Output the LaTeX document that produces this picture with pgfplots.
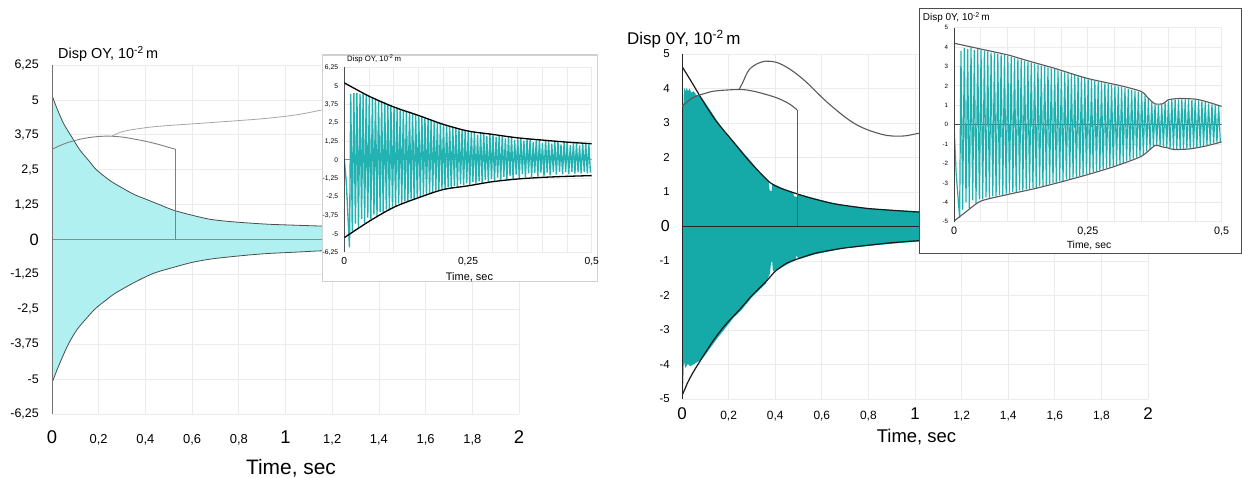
\documentclass[border=0pt]{standalone}
\usepackage{pgfplots}
\pgfplotsset{compat=1.18}
\usepackage{pgfplotstable}
\usepackage{fontspec}
\setmainfont{Liberation Sans}
\newcommand\fs[1]{\fontsize{#1}{#1}\selectfont}
\definecolor{gridc}{HTML}{EBEBEB}
\definecolor{fillL}{HTML}{B0F0F0}
\definecolor{sigL}{HTML}{22B2B2}
\definecolor{fillR}{HTML}{15AAA8}
\definecolor{sigR}{HTML}{1DB0AE}
\pgfplotsset{
  myax/.style={scale only axis, anchor=south west, axis line style={draw=none},
    major tick length=0pt, tick style={draw=none}, xmajorgrids, ymajorgrids,
    grid style={gridc, line width=0.8bp}, ticklabel style={inner sep=0pt}},
}
\pgfplotstableread{
t a b
0 0 0
0.0040 -1.5 -2.5
0.0105 -5.9 -4.8
0.0130 4.45 3.8
0.0161 -4.8 -4.4
0.0193 4.5 3.95
0.0224 -4.3 -4.0
0.0255 4.5 3.9
0.0286 -4.55 -4.3
0.0318 4.45 3.98
0.0349 -4.0 -3.9
0.0380 4.45 3.85
0.0411 -4.25 -4.05
0.0443 4.4 3.9
0.0474 -3.9 -3.85
0.0505 4.3 3.85
0.0536 -4.0 -3.85
0.0568 4.25 3.82
0.0599 -3.7 -3.75
0.0630 4.15 3.78
0.0661 -3.8 -3.78
0.0693 4.05 3.72
0.0724 -3.5 -3.7
0.0755 3.98 3.7
0.0786 -3.6 -3.7
0.0818 3.9 3.65
0.0849 -3.35 -3.62
0.0880 3.78 3.62
0.0911 -3.4 -3.62
0.0943 3.72 3.58
0.0974 -3.15 -3.55
0.1005 3.62 3.55
0.1036 -3.15 -3.55
0.1068 3.55 3.5
0.1099 -2.95 -3.48
0.1130 3.45 3.45
0.1161 -2.98 -3.46
0.1193 3.4 3.4
0.1224 -2.8 -3.4
0.1255 3.3 3.35
0.1286 -2.82 -3.4
0.1318 3.25 3.3
0.1349 -2.65 -3.33
0.1380 3.18 3.25
0.1411 -2.68 -3.32
0.1443 3.1 3.2
0.1474 -2.5 -3.26
0.1505 3.02 3.15
0.1536 -2.5 -3.25
0.1568 2.95 3.1
0.1599 -2.35 -3.18
0.1630 2.86 3.05
0.1661 -2.38 -3.16
0.1693 2.8 3.0
0.1724 -2.22 -3.1
0.1755 2.72 2.95
0.1786 -2.25 -3.07
0.1818 2.65 2.9
0.1849 -2.1 -3.0
0.1880 2.55 2.86
0.1911 -2.1 -2.98
0.1943 2.5 2.8
0.1974 -1.95 -2.92
0.2005 2.42 2.75
0.2036 -1.98 -2.9
0.2068 2.38 2.7
0.2099 -1.85 -2.82
0.2130 2.3 2.65
0.2161 -1.9 -2.8
0.2193 2.25 2.6
0.2224 -1.75 -2.73
0.2255 2.2 2.55
0.2286 -1.8 -2.71
0.2318 2.12 2.5
0.2349 -1.65 -2.64
0.2380 2.08 2.45
0.2411 -1.72 -2.62
0.2443 2.02 2.4
0.2474 -1.58 -2.55
0.2505 1.98 2.35
0.2536 -1.7 -2.52
0.2568 1.94 2.3
0.2599 -1.5 -2.44
0.2630 1.9 2.26
0.2661 -1.62 -2.42
0.2693 1.7 2.22
0.2724 -1.45 -2.35
0.2755 1.88 2.18
0.2786 -1.55 -2.32
0.2818 1.82 2.14
0.2849 -1.35 -2.24
0.2880 1.6 2.1
0.2911 -1.5 -2.2
0.2943 1.78 2.06
0.2974 -1.3 -2.13
0.3005 1.74 2.02
0.3036 -1.45 -2.1
0.3068 1.55 1.98
0.3099 -1.2 -2.02
0.3130 1.68 1.95
0.3161 -1.4 -1.97
0.3193 1.66 1.9
0.3224 -1.15 -1.88
0.3255 1.45 1.85
0.3286 -1.35 -1.83
0.3318 1.6 1.8
0.3349 -1.1 -1.75
0.3380 1.56 1.76
0.3411 -1.3 -1.7
0.3443 1.35 1.71
0.3474 -1.0 -1.62
0.3505 1.5 1.65
0.3536 -1.25 -1.55
0.3568 1.48 1.5
0.3599 -0.95 -1.38
0.3630 1.3 1.32
0.3661 -1.2 -1.26
0.3693 1.45 1.15
0.3724 -0.9 -1.1
0.3755 1.42 1.04
0.3786 -1.15 -1.08
0.3818 1.2 1.03
0.3849 -0.88 -1.1
0.3880 1.38 1.04
0.3911 -1.12 -1.13
0.3943 1.37 1.12
0.3974 -0.85 -1.16
0.4005 1.15 1.24
0.4036 -1.1 -1.2
0.4068 1.33 1.28
0.4099 -0.85 -1.25
0.4130 1.31 1.3
0.4161 -1.05 -1.25
0.4193 1.1 1.31
0.4224 -0.82 -1.24
0.4255 1.28 1.31
0.4286 -1.0 -1.24
0.4318 1.26 1.3
0.4349 -0.8 -1.23
0.4380 1.05 1.3
0.4411 -0.98 -1.22
0.4443 1.22 1.28
0.4474 -0.82 -1.2
0.4505 1.2 1.28
0.4536 -0.95 -1.17
0.4568 1.0 1.25
0.4599 -0.8 -1.14
0.4630 1.17 1.2
0.4661 -0.92 -1.1
0.4693 1.15 1.16
0.4724 -0.82 -1.06
0.4755 0.98 1.1
0.4786 -0.9 -1.0
0.4818 1.13 1.05
0.4849 -0.8 -0.96
0.4880 1.12 1.0
0.4911 -0.9 -0.92
0.4943 1.05 0.95
0.4974 -0.85 -0.88
}\sig
\begin{document}
\begin{tikzpicture}[x=1bp,y=1bp]
\path[use as bounding box] (0bp,0bp) rectangle (1242bp,478bp);
% ---------------- left main ----------------
\begin{axis}[myax, at={(52bp,64bp)}, width=467bp, height=349bp,
  xmin=0, xmax=2, ymin=-6.25, ymax=6.25,
  xtick={0,0.2,0.4,0.6,0.8,1,1.2,1.4,1.6,1.8,2},
  xticklabels={{\fs{18.5}0},{0,2},{0,4},{0,6},{0,8},{\fs{18.5}1},{1,2},{1,4},{1,6},{1,8},{\fs{18.5}2}},
  xticklabel style={font=\fs{13}, anchor=base, yshift=-29.3bp},
  ytick={-6.25,-5,-3.75,-2.5,-1.25,0,1.25,2.5,3.75,5,6.25},
  yticklabels={{-6,25},{-5},{-3,75},{-2,5},{-1,25},{\fs{16.5}0},{1,25},{2,5},{3,75},{5},{6,25}},
  yticklabel style={font=\fs{12.5}, anchor=east, xshift=-13bp},
  xlabel={Time, sec}, xlabel style={at={(axis description cs:0.5118,-0.1728)}, anchor=base, inner sep=0pt, font=\fs{21}},
  title={Disp OY, 10\textsuperscript{-2}\,m}, title style={at={(axis description cs:0.0128,1.0192)}, anchor=base west, inner sep=0pt, yshift=-6pt, font=\fs{14.5}},
]
\addplot[fill=fillL, draw=none] coordinates {
(0,5.17)(0.02,4.72)(0.05,4.15)(0.084,3.68)(0.12,3.2)(0.16,2.8)(0.19,2.5)(0.25,2.1)(0.3,1.85)(0.35,1.62)(0.4,1.45)(0.46,1.25)(0.52,1.05)(0.6,0.87)(0.68,0.72)(0.78,0.63)(0.92,0.55)(1.05,0.51)(1.16,0.48)(1.3,0.45)
(1.3,-0.38)(1.157,-0.405)(1.05,-0.45)(0.928,-0.5)(0.85,-0.55)(0.763,-0.62)(0.68,-0.7)(0.6,-0.82)(0.52,-1.0)(0.435,-1.21)(0.35,-1.55)(0.27,-1.93)(0.23,-2.18)(0.188,-2.46)(0.15,-2.8)(0.106,-3.24)(0.07,-3.75)(0.04,-4.3)(0.02,-4.7)(0,-5.14)};
\addplot[black!70, line width=0.8bp, smooth, tension=0.5] coordinates {
(0,5.17)(0.02,4.72)(0.05,4.15)(0.084,3.68)(0.12,3.2)(0.16,2.8)(0.19,2.5)(0.25,2.1)(0.3,1.85)(0.35,1.62)(0.4,1.45)(0.46,1.25)(0.52,1.05)(0.6,0.87)(0.68,0.72)(0.78,0.63)(0.92,0.55)(1.05,0.51)(1.16,0.48)(1.3,0.45)};
\addplot[black!70, line width=0.8bp, smooth, tension=0.5] coordinates {
(0,-5.14)(0.02,-4.7)(0.04,-4.3)(0.07,-3.75)(0.106,-3.24)(0.15,-2.8)(0.188,-2.46)(0.23,-2.18)(0.27,-1.93)(0.35,-1.55)(0.435,-1.21)(0.52,-1.0)(0.6,-0.82)(0.68,-0.7)(0.763,-0.62)(0.85,-0.55)(0.928,-0.5)(1.05,-0.45)(1.157,-0.405)(1.3,-0.38)};
\addplot[black!45, line width=0.9bp] coordinates {(0,0)(2,0)};
\addplot[black!55, line width=1bp] coordinates {(0,-6.25)(0,6.25)};
\addplot[black!50, line width=0.9bp, smooth, tension=0.6] coordinates {
(0,3.23)(0.05,3.42)(0.1,3.55)(0.15,3.64)(0.2,3.69)(0.25,3.7)(0.3,3.67)(0.35,3.6)(0.4,3.52)(0.45,3.42)(0.5,3.3)(0.53,3.23)};
\addplot[black!50, line width=0.9bp] coordinates {(0.53,3.23)(0.53,0)};
\addplot[black!35, line width=0.8bp, smooth, tension=0.6] coordinates {
(0.256,3.7)(0.28,3.8)(0.31,3.88)(0.348,3.94)(0.45,4.05)(0.634,4.16)(0.8,4.26)(0.92,4.34)(1.05,4.47)(1.155,4.64)};
\end{axis}
% ---------------- right main ----------------
\begin{axis}[myax, at={(682bp,79bp)}, width=466bp, height=345bp,
  xmin=0, xmax=2, ymin=-5, ymax=5,
  xtick={0,0.2,0.4,0.6,0.8,1,1.2,1.4,1.6,1.8,2},
  xticklabels={{\fs{17}0},{0,2},{0,4},{0,6},{0,8},{\fs{17}1},{1,2},{1,4},{1,6},{1,8},{\fs{17}2}},
  xticklabel style={font=\fs{12}, anchor=base, yshift=-21bp},
  ytick={-5,-4,-3,-2,-1,0,1,2,3,4,5},
  yticklabels={{-5},{-4},{-3},{-2},{-1},{\fs{16}0},{1},{2},{3},{4},{5}},
  yticklabel style={font=\fs{11.5}, anchor=east, xshift=-12bp},
  xlabel={Time, sec}, xlabel style={at={(axis description cs:0.5032,-0.1267)}, anchor=base, inner sep=0pt, font=\fs{18.5}},
  title={Disp 0Y, 10\textsuperscript{-2}\,m}, title style={at={(axis description cs:-0.118,1.0261)}, anchor=base west, inner sep=0pt, yshift=-6pt, font=\fs{17}},
]
\addplot[fill=fillR, draw=none] coordinates {
(0,3.4)(0.006,3.5)(0.008,3.95)(0.012,4.02)(0.016,3.9)(0.02,4.02)(0.026,3.92)(0.032,4.0)(0.04,3.88)(0.05,3.92)(0.06,3.82)(0.07,3.8)(0.088,3.7)(0.1,3.58)(0.12,3.38)(0.145,3.12)(0.18,2.78)(0.217,2.5)(0.25,2.24)(0.288,1.95)(0.33,1.6)(0.36,1.38)(0.372,1.3)(0.376,1.05)(0.384,1.02)(0.388,1.25)(0.42,1.14)(0.46,1.03)(0.478,0.98)(0.48,0.88)(0.495,0.85)(0.5,0.94)(0.55,0.85)(0.6,0.76)(0.644,0.69)(0.7,0.61)(0.8,0.53)(0.9,0.48)(1.014,0.44)(1.1,0.42)
(1.1,-0.41)(1.02,-0.43)(0.9,-0.5)(0.79,-0.57)(0.7,-0.63)(0.575,-0.8)(0.5,-0.95)(0.492,-0.84)(0.486,-0.98)(0.45,-1.1)(0.42,-1.22)(0.39,-1.3)(0.387,-1.0)(0.382,-1.05)(0.378,-1.35)(0.36,-1.65)(0.3,-2.05)(0.255,-2.42)(0.22,-2.65)(0.18,-3.0)(0.15,-3.25)(0.1,-3.72)(0.08,-3.88)(0.06,-3.95)(0.05,-4.0)(0.035,-4.05)(0.025,-3.98)(0.015,-4.1)(0.008,-3.9)(0.004,-4.9)(0,-5)};
\addplot[black!90, line width=1.2bp, smooth, tension=0.4] coordinates {
(0,4.64)(0.04,4.2)(0.088,3.66)(0.145,3.07)(0.217,2.48)(0.288,1.9)(0.373,1.3)(0.42,1.12)(0.487,0.96)(0.55,0.83)(0.644,0.67)(0.72,0.59)(0.8,0.52)(0.9,0.47)(1.014,0.42)(1.1,0.4)};
\addplot[black!90, line width=1.2bp, smooth, tension=0.4] coordinates {
(0,-4.9)(0.01,-4.75)(0.026,-4.5)(0.05,-4.2)(0.087,-3.8)(0.13,-3.35)(0.18,-2.9)(0.255,-2.35)(0.3,-2.0)(0.36,-1.6)(0.4,-1.3)(0.45,-1.06)(0.5,-0.93)(0.575,-0.77)(0.68,-0.64)(0.79,-0.55)(0.9,-0.47)(1.02,-0.41)(1.1,-0.39)};
\addplot[black!85, line width=1.8bp] coordinates {(0,0)(2,0)};
\addplot[black!85, line width=2.2bp] coordinates {(0,-5)(0,5)};
\addplot[black!65, line width=1.1bp, smooth, tension=0.6] coordinates {
(0,3.48)(0.046,3.73)(0.1,3.86)(0.145,3.93)(0.245,3.97)(0.3,3.93)(0.359,3.83)(0.41,3.72)(0.459,3.56)(0.494,3.38)};
\addplot[black!65, line width=1.1bp] coordinates {(0.494,3.38)(0.494,0)};
\addplot[black!65, line width=1.1bp, smooth, tension=0.6] coordinates {
(0.245,3.97)(0.259,4.15)(0.288,4.54)(0.33,4.74)(0.373,4.79)(0.43,4.69)(0.516,4.29)(0.63,3.56)(0.744,2.97)(0.858,2.67)(0.943,2.62)(1.007,2.69)(1.03,2.72)};
\end{axis}
% ---------------- left inset ----------------
\fill[white, draw=black!18, line width=1.3bp] (322.7bp,196.3bp) rectangle (597.7bp,423bp);
\begin{axis}[myax, at={(344.3bp,225.5bp)}, width=247.4bp, height=185.2bp,
  xmin=0, xmax=0.5, ymin=-6.25, ymax=6.25,
  xtick={0,0.05,0.1,0.15,0.2,0.25,0.3,0.35,0.4,0.45,0.5},
  xticklabels={0,,,,,{0,25},,,,,{0,5}},
  xticklabel style={font=\fs{10.3}, anchor=base, yshift=-11.6bp},
  ytick={-6.25,-5,-3.75,-2.5,-1.25,0,1.25,2.5,3.75,5,6.25},
  yticklabels={{-6,25},{-5},{-3,75},{-2,5},{-1,25},{0},{1,25},{2,5},{3,75},{5},{6,25}},
  yticklabel style={font=\fs{6.8}, anchor=east, xshift=-6bp},
  xlabel={Time, sec}, xlabel style={at={(axis description cs:0.506,-0.1485)}, anchor=base, inner sep=0pt, font=\fs{11}},
  title={Disp OY, 10\textsuperscript{-2}\,m}, title style={at={(axis description cs:0.0109,1.034)}, anchor=base west, inner sep=0pt, yshift=-6pt, font=\fs{7.8}},
]
\addplot[black!45, line width=0.8bp] coordinates {(0,0)(0.5,0)};
\addplot[sigL, line width=1.35bp] table[x=t, y=a] {\sig};
\addplot[black, line width=1.3bp, smooth, tension=0.5] coordinates {
(0,5.2)(0.05,4.3)(0.1,3.57)(0.15,3.0)(0.2,2.4)(0.25,1.95)(0.3,1.72)(0.35,1.49)(0.4,1.34)(0.45,1.2)(0.5,1.09)};
\addplot[black, line width=1.3bp, smooth, tension=0.5] coordinates {
(0,-5.25)(0.05,-4.15)(0.1,-3.2)(0.15,-2.55)(0.2,-2.0)(0.25,-1.75)(0.3,-1.47)(0.35,-1.29)(0.4,-1.18)(0.45,-1.11)(0.5,-1.06)};
\addplot[black, line width=1bp] coordinates {(0,-6.25)(0,6.25)};
\end{axis}
\fill[white] (598.6bp,225bp) rectangle (618bp,275bp);
% ---------------- right inset ----------------
\fill[white, draw=black!70, line width=1bp] (919bp,224bp) rectangle (1241.5bp,469bp);
\begin{axis}[myax, at={(954bp,256.3bp)}, width=267.7bp, height=194bp,
  xmin=0, xmax=0.5, ymin=-5, ymax=5,
  xtick={0,0.05,0.1,0.15,0.2,0.25,0.3,0.35,0.4,0.45,0.5},
  xticklabels={0,,,,,{0,25},,,,,{0,5}},
  xticklabel style={font=\fs{10.8}, anchor=base, yshift=-13.3bp},
  ytick={-5,-4,-3,-2,-1,0,1,2,3,4,5},
  yticklabels={{-5},{-4},{-3},{-2},{-1},{0},{1},{2},{3},{4},{5}},
  yticklabel style={font=\fs{6.2}, anchor=east, xshift=-5.7bp},
  xlabel={Time, sec}, xlabel style={at={(axis description cs:0.5043,-0.137)}, anchor=base, inner sep=0pt, font=\fs{10.4}},
  title={Disp 0Y, 10\textsuperscript{-2}\,m}, title style={at={(axis description cs:-0.117,1.036)}, anchor=base west, inner sep=0pt, yshift=-6pt, font=\fs{10}},
]
\addplot[black!70, line width=1bp] coordinates {(0,0)(0.5,0)};
\addplot[sigR, line width=1.2bp] table[x=t, y=b] {\sig};
\addplot[black!65, line width=1.1bp, smooth, tension=0.4] coordinates {
(0,4.2)(0.05,3.9)(0.1,3.6)(0.125,3.4)(0.15,3.2)(0.1875,2.91)(0.2,2.8)(0.25,2.38)(0.3125,2.0)(0.35,1.71)(0.3625,1.37)(0.375,1.08)(0.39,1.08)(0.4,1.28)(0.42,1.35)(0.45,1.32)(0.47,1.2)(0.5,0.94)};
\addplot[black!65, line width=1.1bp, smooth, tension=0.4] coordinates {
(0,-4.97)(0.02,-4.54)(0.05,-3.94)(0.1,-3.6)(0.15,-3.3)(0.2,-2.95)(0.25,-2.57)(0.3,-2.15)(0.35,-1.63)(0.375,-1.08)(0.39,-1.15)(0.4,-1.2)(0.41,-1.28)(0.44,-1.25)(0.47,-1.1)(0.5,-0.89)};
\addplot[black!75, line width=1.5bp] coordinates {(0,-5)(0,5)};
\end{axis}
\end{tikzpicture}
\end{document}
